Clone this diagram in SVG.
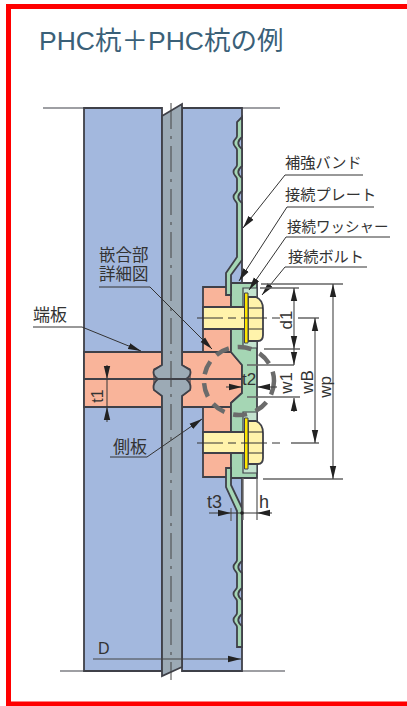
<svg xmlns="http://www.w3.org/2000/svg" width="407" height="706" viewBox="0 0 407 706">
<style>
text{font-family:"Liberation Sans","Noto Sans CJK JP",sans-serif;fill:#333}
.jp{font-size:15.200px}
.s{stroke:#3f4048;stroke-width:1.800;stroke-linejoin:miter}
.blue{fill:#a3b8de}.gray{fill:#9caab5}.sal{fill:#f9b49a}.grn{fill:#a5d6b4}.yel{fill:#fff3ab}
.l{fill:none;stroke:#333;stroke-width:1}
.e{fill:none;stroke:#666;stroke-width:1.300}
.a{marker-end:url(#ar)}
.dim{fill:none;stroke:#444;stroke-width:1.100;marker-end:url(#ar)}
.d{font-size:17px}
</style>
<defs><marker id="ar" markerUnits="userSpaceOnUse" markerWidth="14" markerHeight="8" refX="13" refY="4" orient="auto"><path d="M0,0.800L13,4L0,7.200Z" fill="#222"/></marker></defs>
<rect width="407" height="706" fill="#fff"/>
<path d="M8.500,706V6.500H407M6,704H407" fill="none" stroke="#f00" stroke-width="5"/>
<text id="title" x="39" y="50" font-size="26.500" style="fill:#3a6078">PHC杭＋PHC杭の例</text>
<g id="pile">
<path class="s blue" d="M84,108H162V671H84Z"/>
<path class="s blue" d="M182,108H242V671H182Z"/>
<path class="s" fill="none" d="M43,108H84M182,108H280M60,671H84M182,671H285" style="stroke-width:1.100"/>
</g>
<g id="end-plate">
<path class="s sal" d="M84,352H162V407H84Z"/>
<path class="s sal" d="M203,287H231V352L242,365V393L231,403V477H203V407H182V352H203Z"/>
<path class="s sal" d="M162,365L154,369V390L162,396ZM182,365L190,369V390L182,396Z" style="stroke-width:1.200"/>
</g>
<g id="core">
<path class="s gray" d="M162,116L182,104V365L190,370Q192,375 186,379Q192,384 190,390L182,396V667L162,676V396L154,390Q152,384 158,379Q152,375 154,370L162,365Z"/>
<path d="M171,103V680" fill="none" stroke="#444" stroke-width="1" stroke-dasharray="26 7 3 7"/>
<path class="s" fill="none" d="M84,379H242M182,352H231M182,407H231"/>
</g>
<g id="plate">
<path class="s grn" d="M231,283H257V478H231V403L242,393V365L231,352Z"/>
<path class="s" fill="#c3e3cf" d="M243,288H257V348H243Z" style="stroke-width:1.200"/>
<path class="s" fill="#c3e3cf" d="M243,412H257V473H243Z" style="stroke-width:1.200"/>
</g>
<g id="band">
<path class="s grn" d="M242,117L237,122V136c0,3 -3.500,3 -3.500,7s3.500,4 3.500,7V165c0,3 -3.500,3 -3.500,7s3.500,4 3.500,7V190c0,3 -3.500,3 -3.500,7s3.500,4 3.500,7V257L226,273V295H231V275L242,260V203c-5,-4 -5,-8 0,-12V178c-5,-4 -5,-8 0,-12V149c-5,-4 -5,-8 0,-12Z"/>
<path class="s grn" d="M226,468H231V485L242,508V561c-5,4 -5,8 0,12V588c-5,4 -5,8 0,12V614c-5,4 -5,8 0,12V647H237V627c0,-3 -3.500,-3 -3.500,-7s3.500,-4 3.500,-7V601c0,-3 -3.500,-3 -3.500,-7s3.500,-4 3.500,-7V574c0,-3 -3.500,-3 -3.500,-7s3.500,-4 3.500,-7V511L226,487Z"/>
</g>
<g id="bolt-top">
<path class="s yel" d="M203,307H248V329H203Z"/>
<path class="s yel" d="M248,297H256Q263,300 263,309V335Q263,341 258,341H248Z"/>
<path d="M248,308H263M248,329H263" class="l"/>
<path d="M244.500,293H248V343H244.500Z" fill="#ffe600" stroke="#3f4048"/>
<path d="M197,318H280" fill="none" stroke="#333" stroke-dasharray="26 5 8 5"/>
</g>
<g id="bolt-bottom">
<path class="s yel" d="M203,432H248V453H203Z"/>
<path class="s yel" d="M248,421H256Q263,424 263,433V458Q263,464 258,464H248Z"/>
<path d="M248,432H263M248,453H263" class="l"/>
<path d="M244.500,418H248V469H244.500Z" fill="#ffe600" stroke="#3f4048"/>
<path d="M197,443H285" fill="none" stroke="#333" stroke-dasharray="26 5 8 5"/>
</g>
<ellipse id="detail-circle" cx="239" cy="381" rx="35" ry="34" fill="none" stroke="#6b6b6b" stroke-width="4.500" stroke-dasharray="14 9"/>
<g id="connectors">
<path class="l a" d="M363,175H285L243,228"/>
<path class="l a" d="M374,207H287L239,281"/>
<path class="l a" d="M390,237H286L249,290"/>
<path class="l a" d="M367,267H285L262,295"/>
<path class="l a" d="M99,287H150L212,349"/>
<path class="l a" d="M33,327H82L141,351"/>
<path class="l a" d="M110,457H147L202,419"/>
<path class="e" d="M261,284H343M260,288H299M264,349H300M247,365H294M247,397H300M298,318H319M291,443H319M263,479H343M243,478V520M257,478V520M231,508V521"/>
<path class="dim" d="M294,318V288"/>
<path class="dim" d="M294,318V349"/>
<path class="dim" d="M294,349V365"/>
<path class="dim" d="M294,412V398"/>
<path class="dim" d="M315,380V318"/>
<path class="dim" d="M315,380V443"/>
<path class="dim" d="M333,380V284"/>
<path class="dim" d="M333,380V479"/>
<path class="dim" d="M226,387H242"/>
<path class="dim" d="M277,387H257"/>
<path class="dim" d="M107,365V379"/>
<path class="dim" d="M107,422V407"/>
<path d="M107,379V407" class="l"/>
<path class="dim" d="M209,513H231"/>
<path class="l" d="M231,513H257"/>
<circle cx="242" cy="513" r="1.800" fill="#222"/>
<path class="dim" d="M272,513H257"/>
<path class="dim" d="M93,659H241"/>
</g>
<g id="labels">
<text class="jp" x="285" y="168">補強バンド</text>
<text class="jp" x="285" y="200">接続プレート</text>
<text class="jp" x="287" y="232" style="font-size:14.500px">接続ワッシャー</text>
<text class="jp" x="288" y="262">接続ボルト</text>
<text class="jp" style="font-size:16.500px"><tspan x="99" y="261">嵌合部</tspan><tspan x="99" y="280">詳細図</tspan></text>
<text class="jp" x="33" y="321" style="font-size:17px">端板</text>
<text class="jp" x="113" y="453" style="font-size:17px">側板</text>
<text class="d" x="242" y="385">t2</text>
<text class="d" x="207" y="508" style="font-size:18px">t3</text>
<text class="d" x="259" y="508" style="font-size:18px">h</text>
<text class="d" x="98" y="654" style="font-size:16px">D</text>
<text class="d" transform="translate(103,396) rotate(-90)" text-anchor="middle" style="font-size:16px">t1</text>
<text class="d" transform="translate(292,320) rotate(-90)" text-anchor="middle">d1</text>
<text class="d" transform="translate(292,383) rotate(-90)" text-anchor="middle">w1</text>
<text class="d" transform="translate(313,382) rotate(-90)" text-anchor="middle">wB</text>
<text class="d" transform="translate(331,387) rotate(-90)" text-anchor="middle">wp</text>
</g>
</svg>
